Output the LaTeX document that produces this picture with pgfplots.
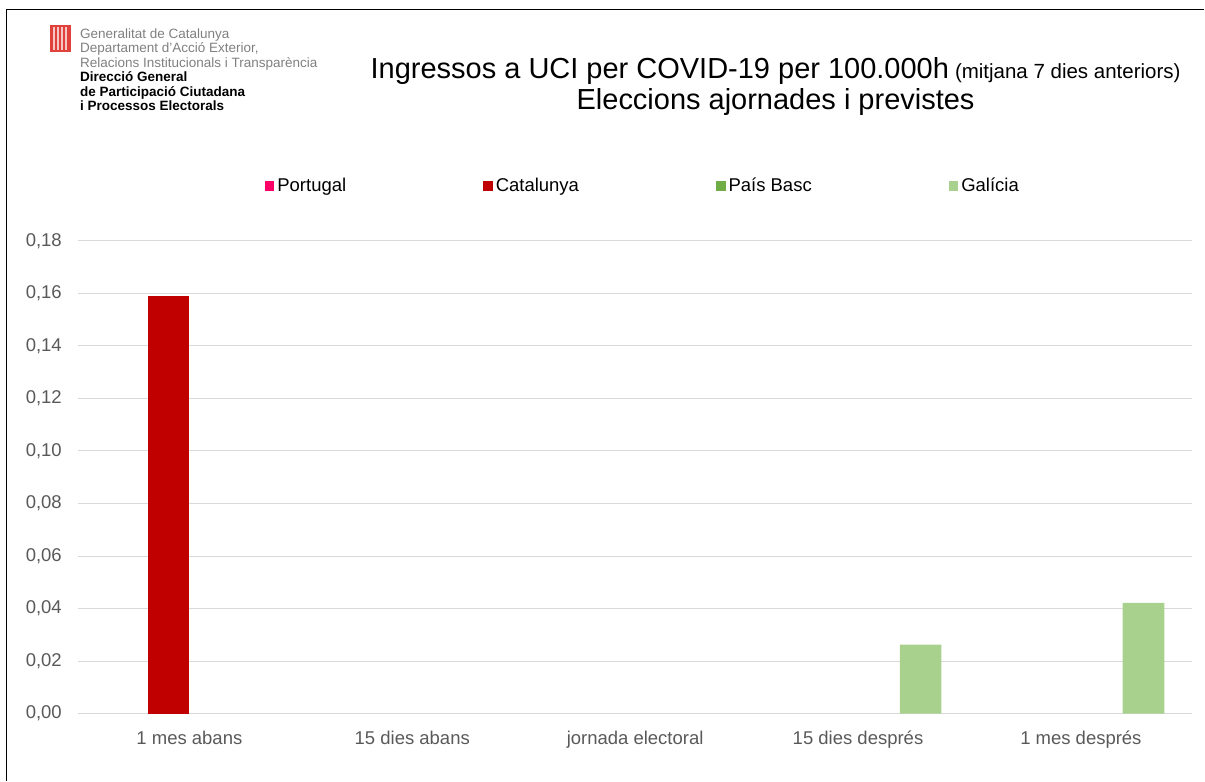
\documentclass[border=0pt]{standalone}
\usepackage{pgfplots}
\pgfplotsset{compat=1.18}
\usepackage{fontspec}
\setmainfont{Liberation Sans}
\definecolor{cPor}{HTML}{FF0066}
\definecolor{cCat}{HTML}{C00000}
\definecolor{cEus}{HTML}{70AD47}
\definecolor{cGal}{HTML}{A9D18E}
\definecolor{tickgray}{HTML}{595959}
\definecolor{gridgray}{HTML}{D9D9D9}
\definecolor{logogray}{HTML}{808080}
\definecolor{logored}{HTML}{E0413A}
\begin{document}
\begin{tikzpicture}
\begin{axis}[
  width=1115pt, height=473pt, scale only axis,
  xmin=-0.5, xmax=4.5, ymin=0, ymax=0.18,
  ybar, bar width=0.187,
  xtick={0,1,2,3,4},
  xticklabels={1 mes abans, 15 dies abans, jornada electoral, 15 dies després, 1 mes després},
  ytick={0,0.02,0.04,0.06,0.08,0.10,0.12,0.14,0.16,0.18},
  ymajorgrids, grid style={gridgray, line width=1pt},
  axis line style={draw=none},
  major tick length=0pt,
  tick style={draw=none},
  ticklabel style={font=\fontsize{18.5}{20}\selectfont, text=tickgray},
  yticklabel style={/pgf/number format/fixed, /pgf/number format/fixed zerofill, /pgf/number format/precision=2, /pgf/number format/use comma, /pgf/number format/assume math mode=true},
  yticklabel style={anchor=east, inner sep=0pt, xshift=-16pt},
  xticklabel style={anchor=north, inner sep=0pt, yshift=-17pt},
  scaled y ticks=false,
  legend columns=4,
  legend image code/.code={\fill[#1, draw=none] (0pt,-4.8pt) rectangle (9.6pt,4.8pt);},
  legend style={draw=none, fill=none, at={(0.5060,1.1163)}, anchor=center,
    font=\fontsize{18.5}{20}\selectfont, inner sep=0pt, nodes={inner sep=0pt},
    /tikz/every odd column/.append style={column sep=3pt},
    /tikz/every even column/.append style={column sep=137pt}},
]
\addlegendimage{fill=cPor, draw=none}
\addlegendentry{Portugal}
\addplot[fill=cCat, draw=none, bar shift=-0.0935] coordinates {(0,0.159)};
\addlegendentry{Catalunya}
\addlegendimage{fill=cEus, draw=none}
\addlegendentry{País Basc}
\addplot[fill=cGal, draw=none, bar shift=0.281] coordinates {(3,0.0263) (4,0.0422)};
\addlegendentry{Galícia}
\end{axis}
\begin{scope}[x=1pt, y=1pt, shift={(-78pt,-67pt)}]
\path (0,0) rectangle (1205,781);
\draw[black, line width=1.3pt] (6.5,0) -- (6.5,771.5) -- (1205,771.5);
% logo
\fill[logored] (50,729) rectangle (71,756);
\foreach \xx in {53.5,57.5,61.5,65.5} {\fill[white!70!logored] (\xx,731) rectangle (\xx+1.6,754);}
\begin{scope}[every node/.style={anchor=base west, inner sep=0pt, font=\fontsize{13.5}{14}\selectfont}]
\node[text=logogray] at (80,742) {Generalitat de Catalunya};
\node[text=logogray] at (80,728.3) {Departament d’Acció Exterior,};
\node[text=logogray] at (80,713.7) {Relacions Institucionals i Transparència};
\node[font=\fontsize{13.5}{14}\selectfont\bfseries] at (80,699.3) {Direcció General};
\node[font=\fontsize{13.5}{14}\selectfont\bfseries] at (80,684.3) {de Participació Ciutadana};
\node[font=\fontsize{13.5}{14}\selectfont\bfseries] at (80,670) {i Processos Electorals};
\end{scope}
% title
\node[anchor=base, inner sep=0pt] at (776,702) {{\fontsize{29}{32}\selectfont Ingressos a UCI per COVID-19 per 100.000h}\hspace{6pt}{\fontsize{20.5}{22}\selectfont (mitjana 7 dies anteriors)}};
\node[anchor=base, inner sep=0pt, font=\fontsize{29}{32}\selectfont] at (776,671) {Eleccions ajornades i previstes};
\end{scope}
\end{tikzpicture}
\end{document}
